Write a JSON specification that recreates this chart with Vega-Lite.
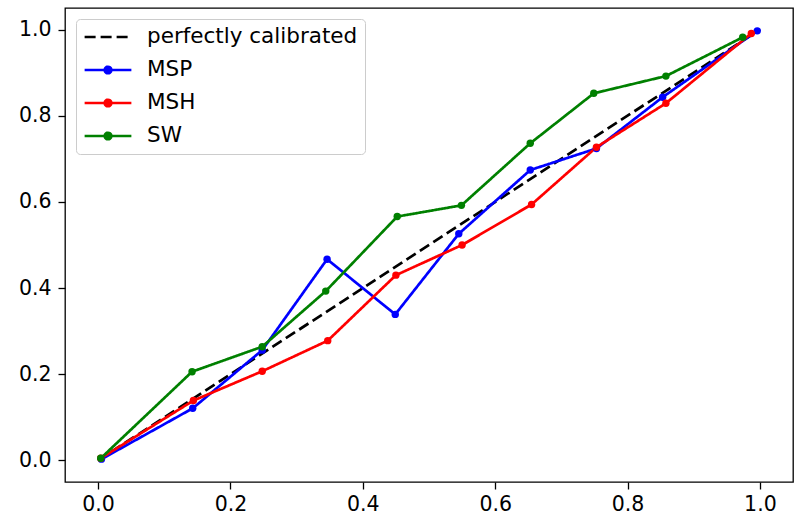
{
  "$schema": "https://vega.github.io/schema/vega-lite/v6.json",
  "width": 728,
  "height": 474,
  "autosize": "none",
  "padding": {"left": 65, "top": 8, "right": 2, "bottom": 43},
  "background": "white",
  "config": {
    "font": "DejaVu Sans",
    "view": {"stroke": "black", "strokeWidth": 1.3},
    "axis": {
      "grid": false,
      "domain": false,
      "tickColor": "black",
      "tickWidth": 1.3,
      "tickSize": 7,
      "labelColor": "black",
      "labelFont": "DejaVu Sans",
      "labelFontSize": 20.5,
      "title": null
    }
  },
  "data": {
    "values": [
      {"series": "perfectly calibrated", "x": 0, "y": 0},
      {"series": "perfectly calibrated", "x": 1, "y": 1},
      {"series": "MSP", "x": 0.005, "y": 0.003},
      {"series": "MSP", "x": 0.143, "y": 0.121},
      {"series": "MSP", "x": 0.248, "y": 0.256},
      {"series": "MSP", "x": 0.346, "y": 0.467},
      {"series": "MSP", "x": 0.449, "y": 0.339},
      {"series": "MSP", "x": 0.545, "y": 0.526},
      {"series": "MSP", "x": 0.653, "y": 0.674},
      {"series": "MSP", "x": 0.753, "y": 0.724},
      {"series": "MSP", "x": 0.853, "y": 0.843},
      {"series": "MSP", "x": 0.996, "y": 0.997},
      {"series": "MSH", "x": 0.004, "y": 0.005},
      {"series": "MSH", "x": 0.144, "y": 0.139},
      {"series": "MSH", "x": 0.248, "y": 0.207},
      {"series": "MSH", "x": 0.347, "y": 0.278},
      {"series": "MSH", "x": 0.45, "y": 0.43},
      {"series": "MSH", "x": 0.55, "y": 0.5},
      {"series": "MSH", "x": 0.655, "y": 0.594},
      {"series": "MSH", "x": 0.753, "y": 0.727},
      {"series": "MSH", "x": 0.858, "y": 0.829},
      {"series": "MSH", "x": 0.987, "y": 0.991},
      {"series": "SW", "x": 0.004, "y": 0.005},
      {"series": "SW", "x": 0.142, "y": 0.206},
      {"series": "SW", "x": 0.248, "y": 0.264},
      {"series": "SW", "x": 0.344, "y": 0.393},
      {"series": "SW", "x": 0.452, "y": 0.566},
      {"series": "SW", "x": 0.549, "y": 0.592},
      {"series": "SW", "x": 0.653, "y": 0.736},
      {"series": "SW", "x": 0.749, "y": 0.852},
      {"series": "SW", "x": 0.858, "y": 0.892},
      {"series": "SW", "x": 0.974, "y": 0.982}
    ]
  },
  "encoding": {
    "x": {
      "field": "x", "type": "quantitative",
      "scale": {"domain": [-0.05, 1.05], "nice": false, "zero": false},
      "axis": {"values": [0, 0.2, 0.4, 0.6, 0.8, 1.0], "format": ".1f", "labelPadding": 5}
    },
    "y": {
      "field": "y", "type": "quantitative",
      "scale": {"domain": [-0.05, 1.05], "nice": false, "zero": false},
      "axis": {"values": [0, 0.2, 0.4, 0.6, 0.8, 1.0], "format": ".1f", "labelPadding": 7}
    },
    "color": {
      "field": "series", "type": "nominal",
      "scale": {"domain": ["perfectly calibrated", "MSP", "MSH", "SW"], "range": ["black", "#0000ff", "#ff0000", "#008000"]},
      "legend": {
        "title": null,
        "orient": "top-left",
        "offset": 11,
        "padding": 7,
        "fillColor": "white",
        "strokeColor": "#cccccc",
        "cornerRadius": 4,
        "labelFont": "DejaVu Sans",
        "labelFontSize": 21.5,
        "labelColor": "black",
        "labelLimit": 500,
        "symbolSize": 350,
        "symbolStrokeWidth": 2.7,
        "labelOffset": 28,
        "symbolOffset": 14,
        "rowPadding": 11,
        "encode": {
          "symbols": {
            "update": {
              "shape": {"signal": "datum.value === 'perfectly calibrated' ? 'M-2.5,0L2.5,0' : 'M-2.5,0L2.5,0M-0.35,0A0.35,0.35,0,1,0,0.35,0A0.35,0.35,0,1,0,-0.35,0Z'"},
              "fill": {"scale": "color", "field": "value"},
              "strokeDash": {"signal": "datum.value === 'perfectly calibrated' ? [11, 5.5] : [1, 0]"}
            }
          }
        }
      }
    },
    "strokeDash": {
      "field": "series", "type": "nominal",
      "scale": {"domain": ["perfectly calibrated", "MSP", "MSH", "SW"], "range": [[11, 5], [1, 0], [1, 0], [1, 0]]},
      "legend": null
    }
  },
  "layer": [
    {"mark": {"type": "line", "strokeWidth": 2.7}},
    {
      "transform": [{"filter": "datum.series !== 'perfectly calibrated'"}],
      "mark": {"type": "circle", "size": 55, "opacity": 1}
    }
  ]
}
